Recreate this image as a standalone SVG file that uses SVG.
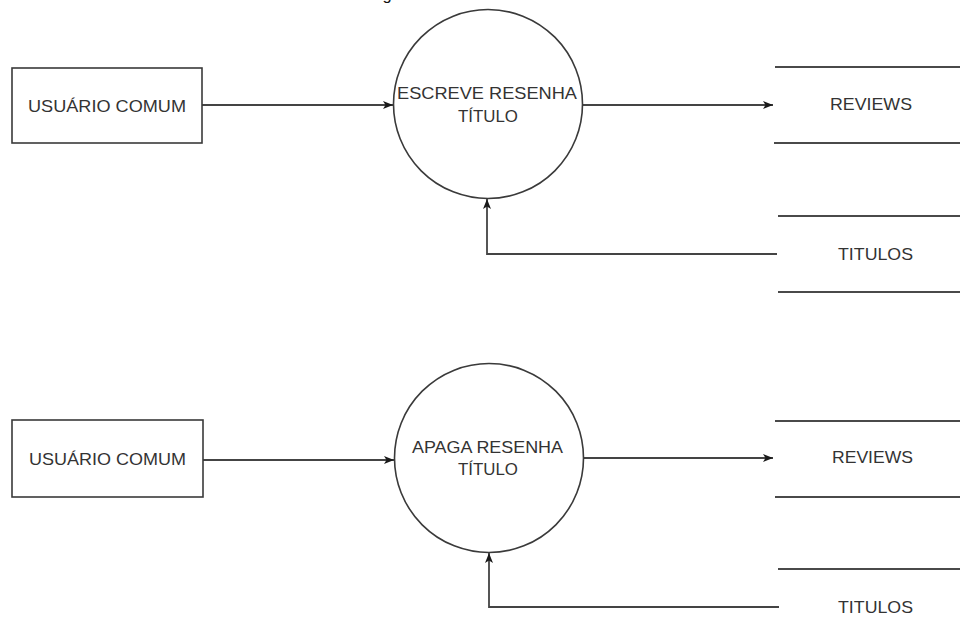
<svg xmlns="http://www.w3.org/2000/svg" width="960" height="639" viewBox="0 0 960 639">
  <defs>
    <marker id="arrow" viewBox="0 0 10 8" refX="10" refY="4" markerWidth="10" markerHeight="8" markerUnits="userSpaceOnUse" orient="auto">
      <path d="M0,0 L10,4 L0,8 L2.5,4 Z" fill="#1a1a1a"/>
    </marker>
  </defs>
  <style>
    .shape { fill: #ffffff; stroke: #3a3a3a; stroke-width: 1.6; }
    .store { fill: none; stroke: #4a4a4a; stroke-width: 1.8; }
    .flow { fill: none; stroke: #444444; stroke-width: 1.8; marker-end: url(#arrow); }
    .label { font-family: "Liberation Sans", Arial, sans-serif; font-size: 16.5px; fill: #333333; text-anchor: middle; }
  </style>
  <rect width="960" height="639" fill="#ffffff"/>

  <!-- title remnant at the top edge -->
  <text x="387" y="0" class="label" style="fill:#111">g</text>

  <!-- connectors -->
  <g id="connectors">
    <path class="flow" d="M202,105 L393,105"/>
    <path class="flow" d="M583,105 L773,105"/>
    <path class="flow" d="M777,254 L487,254 L487,199"/>
    <path class="flow" d="M202,460 L394,460"/>
    <path class="flow" d="M584,458 L773,458"/>
    <path class="flow" d="M779,607 L489,607 L489,553"/>
  </g>

  <!-- top flow -->
  <g id="usuario-1">
    <rect class="shape" x="12" y="68" width="190" height="75"/>
    <text class="label" x="107" y="112" textLength="158" lengthAdjust="spacingAndGlyphs">USUÁRIO COMUM</text>
  </g>
  <g id="escreve-resenha">
    <circle class="shape" cx="488" cy="104" r="94.5"/>
    <text class="label" x="487" y="99" textLength="180" lengthAdjust="spacingAndGlyphs">ESCREVE RESENHA</text>
    <text class="label" x="488" y="122" textLength="60" lengthAdjust="spacingAndGlyphs">TÍTULO</text>
  </g>
  <g id="reviews-1">
    <line class="store" x1="775" y1="67" x2="960" y2="67"/>
    <line class="store" x1="774" y1="143" x2="960" y2="143"/>
    <text class="label" x="871" y="110" textLength="82" lengthAdjust="spacingAndGlyphs">REVIEWS</text>
  </g>
  <g id="titulos-1">
    <line class="store" x1="778" y1="216" x2="960" y2="216"/>
    <line class="store" x1="778" y1="292" x2="960" y2="292"/>
    <text class="label" x="875.5" y="260" textLength="75" lengthAdjust="spacingAndGlyphs">TITULOS</text>
  </g>

  <!-- bottom flow -->
  <g id="usuario-2">
    <rect class="shape" x="12" y="420" width="191" height="77"/>
    <text class="label" x="107.5" y="465" textLength="157" lengthAdjust="spacingAndGlyphs">USUÁRIO COMUM</text>
  </g>
  <g id="apaga-resenha">
    <circle class="shape" cx="489" cy="458" r="94.5"/>
    <text class="label" x="487.5" y="453" textLength="151" lengthAdjust="spacingAndGlyphs">APAGA RESENHA</text>
    <text class="label" x="488" y="475" textLength="60" lengthAdjust="spacingAndGlyphs">TÍTULO</text>
  </g>
  <g id="reviews-2">
    <line class="store" x1="775" y1="421" x2="960" y2="421"/>
    <line class="store" x1="775" y1="497" x2="960" y2="497"/>
    <text class="label" x="872.5" y="463" textLength="81" lengthAdjust="spacingAndGlyphs">REVIEWS</text>
  </g>
  <g id="titulos-2">
    <line class="store" x1="778" y1="569" x2="960" y2="569"/>
    <text class="label" x="875.5" y="613" textLength="75" lengthAdjust="spacingAndGlyphs">TITULOS</text>
  </g>
</svg>
